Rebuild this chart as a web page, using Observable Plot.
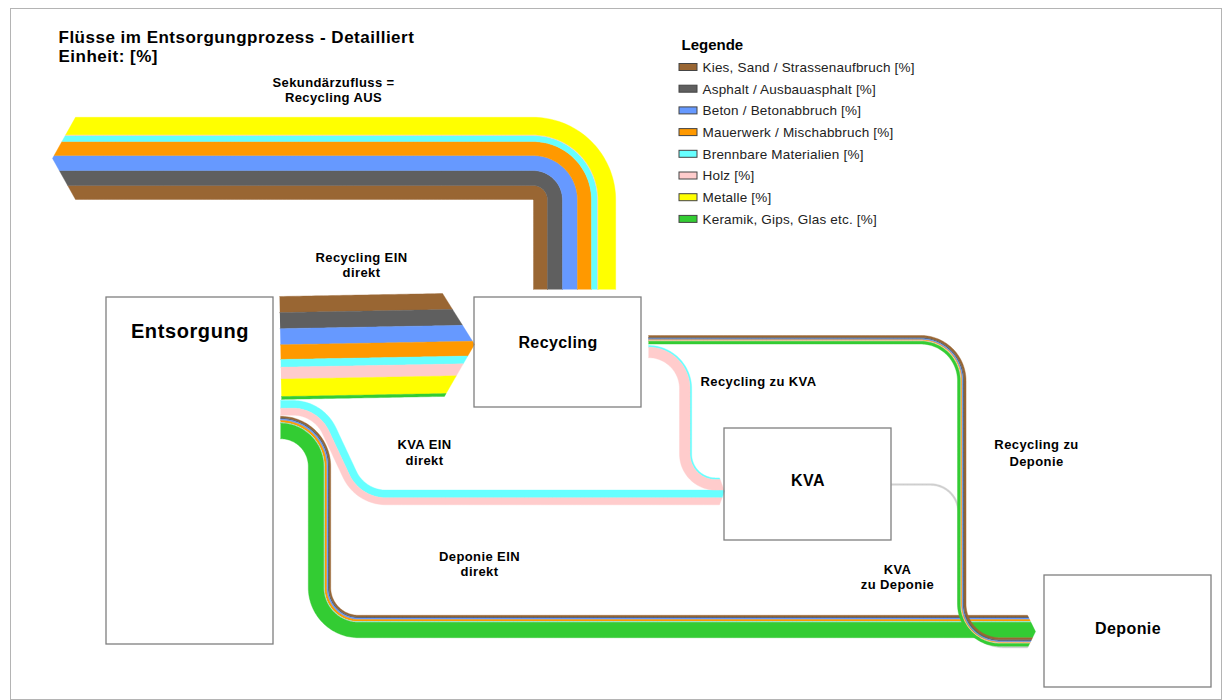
<!DOCTYPE html>
<html>
<head>
<meta charset="utf-8">
<script src="https://cdn.jsdelivr.net/npm/d3@7"></script>
<script src="https://cdn.jsdelivr.net/npm/@observablehq/plot@0.6"></script>
<style>
  body { margin: 0; background: #fff; }
  svg { display: block; }
</style>
</head>
<body>
<div id="chart"></div>
<script>
// ---------- DATA ----------
const materials = [
  "Kies, Sand / Strassenaufbruch [%]",
  "Asphalt / Ausbauasphalt [%]",
  "Beton / Betonabbruch [%]",
  "Mauerwerk / Mischabbruch [%]",
  "Brennbare Materialien [%]",
  "Holz [%]",
  "Metalle [%]",
  "Keramik, Gips, Glas etc. [%]"
];
const materialColors = ["#996633", "#5f5f5f", "#6699ff", "#ff9900", "#66ffff", "#ffcccc", "#ffff00", "#33cc33"];

// flow values in % (same order as materials)
const recyclingEinDirekt = [11.5, 11.5, 11.5, 10.5, 5.5, 8.5, 12.5, 2.0];
const kvaEinDirekt       = [0, 0, 0, 0, 5.5, 5.0, 0, 0];
const deponieEinDirekt   = [1.2, 0.8, 1.0, 1.5, 0.3, 0.2, 0, 11.0];
const recyclingAus       = [10.0, 10.7, 10.7, 10.0, 4.3, 0.5, 12.5, 0];
const recyclingZuKva     = [0, 0, 0, 0, 1.2, 7.5, 0, 0];
const recyclingZuDeponie = [1.5, 0.8, 0.8, 0.5, 0, 0.5, 0, 2.0];
const kvaZuDeponie       = [1.2];
const kvaZuDeponieColor  = "#cfcfcf";

const nodeNames = ["Entsorgung", "Recycling", "KVA", "Deponie"];
const flowLabelTexts = [
  ["Sekundärzufluss =", "Recycling AUS"],
  ["Recycling EIN", "direkt"],
  ["KVA EIN", "direkt"],
  ["Deponie EIN", "direkt"],
  ["Recycling zu", "Deponie"],
  ["KVA", "zu Deponie"]
];
const title = "Flüsse im Entsorgungprozess - Detailliert";
const subtitle = "Einheit: [%]";
const legendTitle = "Legende";

// ---------- LAYOUT ----------
const FONT = "Arial, 'Liberation Sans', Helvetica, sans-serif";
const pxPerPercent = 1.4;
const nodeLayout = [
  {x1: 106, x2: 273, y1: 297, y2: 644, ly: 331, size: 20},
  {x1: 474, x2: 641, y1: 297, y2: 407, ly: 342, size: 16},
  {x1: 724, x2: 891, y1: 428, y2: 540, ly: 480, size: 16},
  {x1: 1044, x2: 1211, y1: 575, y2: 687, ly: 628, size: 16}
];
const nodes = nodeNames.map((name, i) => ({name, ...nodeLayout[i], cx: (nodeLayout[i].x1 + nodeLayout[i].x2) / 2}));

const sum = a => a.reduce((s, v) => s + v, 0);
const widthOf = vals => sum(vals) * pxPerPercent;

// centerline with filleted corners -> samples {x,y,tx,ty}
function buildPath(pts, radii) {
  const out = [];
  const addLine = (a, b) => {
    const dx = b[0] - a[0], dy = b[1] - a[1];
    const L = Math.hypot(dx, dy);
    if (L < 1e-6) return;
    const tx = dx / L, ty = dy / L;
    const m = Math.max(1, Math.ceil(L / 4));
    for (let i = 0; i <= m; i++) out.push({x: a[0] + dx * i / m, y: a[1] + dy * i / m, tx, ty});
  };
  let cur = pts[0];
  for (let i = 1; i < pts.length - 1; i++) {
    const p = pts[i], q = pts[i + 1];
    let d1 = [p[0] - cur[0], p[1] - cur[1]]; const l1 = Math.hypot(...d1); d1 = [d1[0] / l1, d1[1] / l1];
    let d2 = [q[0] - p[0], q[1] - p[1]]; const l2 = Math.hypot(...d2); d2 = [d2[0] / l2, d2[1] / l2];
    const cross = d1[0] * d2[1] - d1[1] * d2[0];
    const dot = Math.max(-1, Math.min(1, d1[0] * d2[0] + d1[1] * d2[1]));
    const theta = Math.acos(dot);
    const r = radii[i - 1];
    const t = r * Math.tan(theta / 2);
    const A = [p[0] - d1[0] * t, p[1] - d1[1] * t];
    const B = [p[0] + d2[0] * t, p[1] + d2[1] * t];
    addLine(cur, A);
    const s = cross > 0 ? 1 : -1;
    const nT = d => s > 0 ? [-d[1], d[0]] : [d[1], -d[0]];
    const n1 = nT(d1);
    const C = [A[0] + n1[0] * r, A[1] + n1[1] * r];
    const a1 = Math.atan2(d1[1], d1[0]);
    const steps = Math.max(10, Math.ceil(theta * r / 1.5));
    for (let k = 0; k <= steps; k++) {
      const a = a1 + s * theta * k / steps;
      const d = [Math.cos(a), Math.sin(a)];
      const n = nT(d);
      out.push({x: C[0] - n[0] * r, y: C[1] - n[1] * r, tx: d[0], ty: d[1]});
    }
    cur = B;
  }
  addLine(cur, pts[pts.length - 1]);
  return out;
}

// offset: positive = left of travel direction
const off = (s, o, e = 0) => ({x: s.x + o * s.ty + e * s.tx, y: s.y - o * s.tx + e * s.ty});

function bandPolygons(id, samples, values, order, colors, arrow) {
  const bands = order.filter(i => values[i] > 0).map(i => ({w: values[i] * pxPerPercent, color: colors[i]}));
  const W = sum(bands.map(b => b.w));
  let o = W / 2;
  const last = samples[samples.length - 1];
  const ext = oo => arrow ? arrow.depth * Math.max(0, 1 - Math.abs(oo - arrow.tip) / arrow.half) : 0;
  return bands.map((b, j) => {
    const oHi = o, oLo = o - b.w; o = oLo;
    const poly = [];
    for (const s of samples) poly.push(off(s, oHi));
    if (arrow) {
      poly.push(off(last, oHi, ext(oHi)));
      if (arrow.tip < oHi && arrow.tip > oLo) poly.push(off(last, arrow.tip, arrow.depth));
      poly.push(off(last, oLo, ext(oLo)));
    }
    for (let k = samples.length - 1; k >= 0; k--) poly.push(off(samples[k], oLo));
    return {id: id + "-" + j, color: b.color, poly};
  });
}

// widths
const wRecEin = widthOf(recyclingEinDirekt);
const wKvaEin = widthOf(kvaEinDirekt);
const wDepEin = widthOf(deponieEinDirekt);
const wRecAus = widthOf(recyclingAus);
const wRzK = widthOf(recyclingZuKva);
const wRzD = widthOf(recyclingZuDeponie);
const wKzD = widthOf(kvaZuDeponie);

// geometry anchors
const E = nodes[0], R = nodes[1], K = nodes[2], D = nodes[3];
const startX = E.x2 + 7;
const recOutX = R.x2 + 7;

// Recycling EIN direkt
const recEinTop0 = 296, recEinTop1 = 293, recEinEndX = R.x1 - 31;
const recEinPath = buildPath([[startX, recEinTop0 + wRecEin / 2], [recEinEndX, recEinTop1 + wRecEin / 2]], []);
// KVA arrow (Recycling zu KVA + KVA EIN)
const kvaArrowTop = 477.4, kvaEndX = K.x1 - 5;
const rzkY = kvaArrowTop + wRzK / 2;
const kvaEinY = kvaArrowTop + wRzK + wKvaEin / 2;
const kvaTipY = kvaArrowTop + (wRzK + wKvaEin) / 2, kvaHalf = (wRzK + wKvaEin) / 2;
const kvaEinStartY = 400 + wKvaEin / 2;
const kvaEinPath = buildPath([[startX, kvaEinStartY], [318, kvaEinStartY], [360, kvaEinY], [kvaEndX, kvaEinY]], [40, 40]);
const rzkStartY = 345 + wRzK / 2, rzkX = 679 + wRzK / 2;
const rzkPath = buildPath([[recOutX, rzkStartY], [rzkX, rzkStartY], [rzkX, rzkY], [kvaEndX, rzkY]], [rzkX - recOutX, 30]);
// Deponie arrow (Deponie EIN + Recycling zu Deponie + KVA zu Deponie)
const depArrowTop = 614.8, depEndX = D.x1 - 17;
const depEinY = depArrowTop + wDepEin / 2;
const rzdY = depArrowTop + wDepEin + wRzD / 2;
const kzdY = depArrowTop + wDepEin + wRzD + wKzD / 2;
const depTotal = wDepEin + wRzD + wKzD;
const depTipY = depArrowTop + depTotal / 2;
const depEinStartY = 415.8 + wDepEin / 2, depEinX = 307.8 + wDepEin / 2;
const depEinPath = buildPath([[startX, depEinStartY], [depEinX, depEinStartY], [depEinX, depEinY], [depEndX, depEinY]], [depEinX - startX, 39]);
const rzdStartY = 335 + wRzD / 2, rzdX = 957 + wRzD / 2;
const rzdPath = buildPath([[recOutX, rzdStartY], [rzdX, rzdStartY], [rzdX, rzdY], [depEndX, rzdY]], [41, 38]);
const kzdStartY = 484, kzdX = 958;
const kzdPath = buildPath([[K.x2, kzdStartY], [kzdX, kzdStartY], [kzdX, kzdY], [depEndX, kzdY]], [28, 46]);
// Recycling AUS (Sekundärzufluss)
const recAusX = 533 + wRecAus / 2, recAusY = 199 - wRecAus / 2;
const recAusPath = buildPath([[recAusX, R.y1 - 8], [recAusX, recAusY], [75, recAusY]], [wRecAus / 2 + 0.5]);

const idx = [0, 1, 2, 3, 4, 5, 6, 7];
const polys = [
  ...bandPolygons("kzd", kzdPath, kvaZuDeponie, [0], [kvaZuDeponieColor],
    {tip: kzdY - depTipY, half: depTotal / 2, depth: 8}),
  ...bandPolygons("depEin", depEinPath, deponieEinDirekt, [0, 1, 2, 3, 4, 5, 7], materialColors,
    {tip: depEinY - depTipY, half: depTotal / 2, depth: 8}),
  ...bandPolygons("rzd", rzdPath, recyclingZuDeponie, [0, 1, 2, 3, 5, 7], materialColors,
    {tip: rzdY - depTipY, half: depTotal / 2, depth: 8}),
  ...bandPolygons("kvaEin", kvaEinPath, kvaEinDirekt, [4, 5], materialColors,
    {tip: kvaEinY - kvaTipY, half: kvaHalf, depth: 5}),
  ...bandPolygons("rzk", rzkPath, recyclingZuKva, [4, 5], materialColors,
    {tip: rzkY - kvaTipY, half: kvaHalf, depth: 5}),
  ...bandPolygons("recEin", recEinPath, recyclingEinDirekt, idx, materialColors,
    {tip: 0, half: wRecEin / 2, depth: 31}),
  ...bandPolygons("recAus", recAusPath, recyclingAus, [0, 1, 2, 3, 4, 5, 6], materialColors,
    {tip: 0, half: wRecAus / 2, depth: 23})
];

const flowMarks = polys.map(p => Plot.line(p.poly, {
  x: "x", y: "y", fill: p.color, stroke: p.color, strokeWidth: 0.4, strokeLinejoin: "round"
}));

// labels
const labelPos = [[333, 82, 97], [361, 257, 272], [424, 444, 460], [479, 556, 571], [1036, 444, 461], [897, 569, 584]];
const flowLabels = [];
flowLabelTexts.forEach((lines, i) => lines.forEach((t, j) => flowLabels.push({x: labelPos[i][0], y: labelPos[i][1 + j], text: t})));
const leftLabels = [{x: 700, y: 381, text: "Recycling zu KVA"}];

const titles = [
  {x: 58, y: 37, text: title},
  {x: 58, y: 56, text: subtitle}
];

const legendItems = materials.map((m, i) => ({label: m, color: materialColors[i], y: 67 + i * 21.7}));

const chart = Plot.plot({
  width: 1226,
  height: 700,
  margin: 0,
  x: {domain: [0, 1226], range: [0, 1226], axis: null},
  y: {domain: [0, 700], range: [0, 700], axis: null},
  style: {fontFamily: FONT, background: "#fff"},
  marks: [
    Plot.rect([{x1: 10.5, x2: 1221.5, y1: 8.5, y2: 699.5}], {x1: "x1", x2: "x2", y1: "y1", y2: "y2", fill: "none", stroke: "#b4b4b4", strokeWidth: 1}),
    ...flowMarks,
    Plot.rect(nodes, {x1: "x1", x2: "x2", y1: "y1", y2: "y2", fill: "none", stroke: "#7f7f7f", strokeWidth: 1.3}),
    Plot.text(nodes.filter(n => n.size === 20), {x: "cx", y: "ly", text: "name", fontSize: 20, fontWeight: "bold", fill: "#000", fontFamily: FONT}),
    Plot.text(nodes.filter(n => n.size === 16), {x: "cx", y: "ly", text: "name", fontSize: 16, fontWeight: "bold", fill: "#000", fontFamily: FONT}),
    Plot.text(flowLabels, {x: "x", y: "y", text: "text", fontSize: 13, fontWeight: "bold", fill: "#000", fontFamily: FONT}),
    Plot.text(leftLabels, {x: "x", y: "y", text: "text", fontSize: 13, fontWeight: "bold", fill: "#000", textAnchor: "start", fontFamily: FONT}),
    Plot.text(titles, {x: "x", y: "y", text: "text", fontSize: 17, fontWeight: "bold", fill: "#000", textAnchor: "start", fontFamily: FONT}),
    Plot.text([{x: 681, y: 45, text: legendTitle}], {x: "x", y: "y", text: "text", fontSize: 15, fontWeight: "bold", fill: "#000", textAnchor: "start", fontFamily: FONT}),
    Plot.rect(legendItems, {x1: () => 679, x2: () => 697, y1: d => d.y - 3.5, y2: d => d.y + 3.5, fill: "color", stroke: "#444", strokeWidth: 1}),
    Plot.text(legendItems, {x: () => 702, y: "y", text: "label", fontSize: 13.5, fill: "#222", textAnchor: "start", fontFamily: FONT})
  ],
  color: {type: "identity"}
});

// slightly wider letter spacing, as in the reference rendering
const spacing = {"20": "0.6px", "16": "0.4px", "13": "0.4px", "17": "0.5px", "13.5": "0.2px"};
chart.querySelectorAll("g[font-size]").forEach(g => {
  const ls = spacing[g.getAttribute("font-size")];
  if (ls) g.style.letterSpacing = ls;
});
document.getElementById("chart").appendChild(chart);
</script>
</body>
</html>
